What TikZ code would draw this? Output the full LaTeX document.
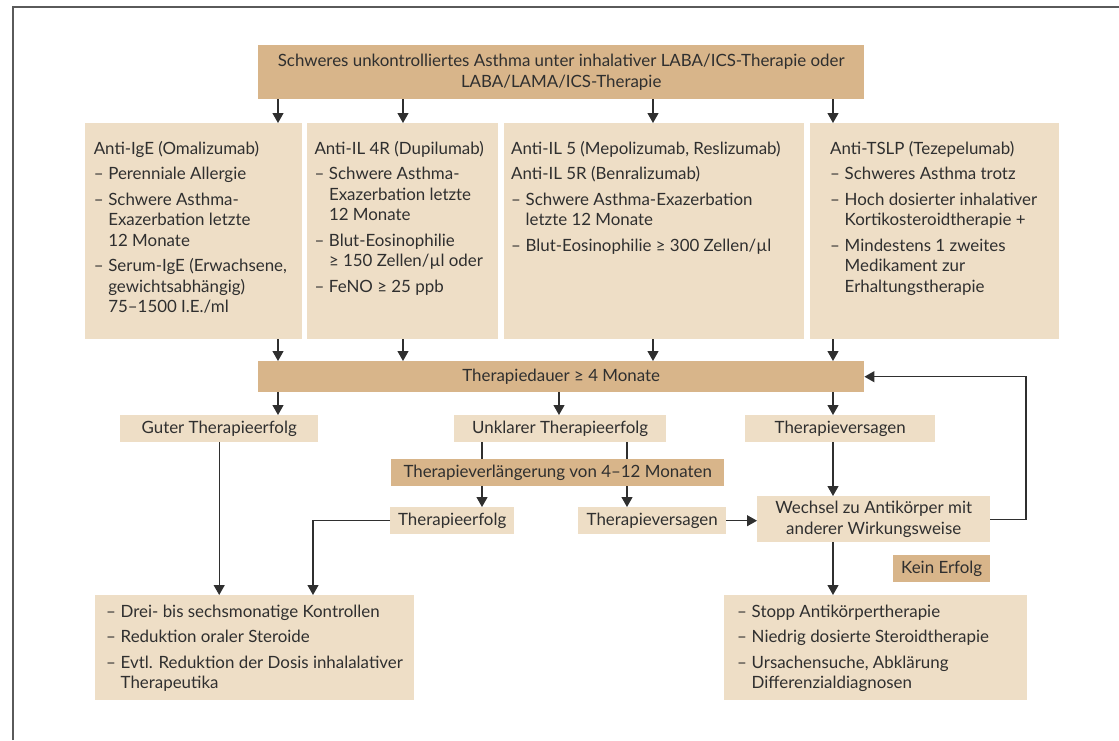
\documentclass[tikz,border=0pt]{standalone}
\usepackage{fontspec}
\setmainfont{Lato}
\usepackage{tikz}
\usetikzlibrary{arrows.meta}
\definecolor{tandark}{HTML}{D8B58A}
\definecolor{tanlight}{HTML}{EEDEC6}
\definecolor{ink}{HTML}{2F2F2F}
\definecolor{rahmen}{HTML}{5A5A5A}
\newcommand{\hang}{14.5pt}
\newcommand{\li}{\par\hangindent=\hang\hangafter=1\noindent\makebox[\hang][l]{–}\strut}
\newcommand{\lbox}[5]{\parbox[t][#2pt][t]{#1pt}{\setlength{\rightskip}{0pt plus 1fil}\setlength{\leftskip}{#3pt}\setlength{\parskip}{5pt}\vspace*{#4pt}#5}}

\begin{document}
\begin{tikzpicture}[x=1pt, y=-1pt, font=\fontsize{16.9}{20.5}\selectfont, text=ink,
        dunkel/.style={fill=tandark, anchor=north west, inner sep=0pt, align=center},
        hell/.style={fill=tanlight, anchor=north west, inner sep=0pt, align=center},
        liste/.style={fill=tanlight, anchor=north west, inner sep=0pt},
        pfeil/.style={draw=ink, line width=1.2pt, -{Triangle[width=11pt,length=10pt]}},
        linie/.style={draw=ink, line width=1.2pt}]
                %\draw[help lines] (0,0) grid[step=50] (1119,740);
                \useasboundingbox (0,0) rectangle (1119,740);
                \draw[rahmen, line width=1.5pt] (13,740) -- (13,7) -- (1119,7);

                \coordinate (c1) at (278,0);
                \coordinate (c2) at (403,0);
                \coordinate (c3) at (653,0);
                \coordinate (c4) at (833,0);
                \coordinate (cm) at (559,0);
                \coordinate (u1) at (482,0);
                \coordinate (u2) at (627,0);
                \coordinate (d) at (313,0);
                \coordinate (back) at (1026,0);

                \node[dunkel, minimum width=606, minimum height=54] (start) at (258,45)
                    {Schweres unkontrolliertes Asthma unter inhalativer LABA/ICS-Therapie oder\\LABA/LAMA/ICS-Therapie};

                % Antikoerper
                \node[liste] (ige) at (85,123) {\lbox{217}{216}{8.6}{11.6}{%
                    \strut Anti-IgE (Omalizumab)
                    \li Perenniale Allergie
                    \li Schwere Asthma-\\Exazerbation letzte\\12 Monate
                    \li Serum-IgE (Erwachsene,\\gewichtsabhängig)\\75–1500 I.E./ml}};
                \node[liste] (ilvier) at (307,123) {\lbox{191}{216}{7.3}{11.6}{%
                    \strut Anti-IL 4R (Dupilumab)
                    \li Schwere Asthma-\\Exazerbation letzte\\12 Monate
                    \li Blut-Eosinophilie\\≥ 150 Zellen/µl oder
                    \li FeNO ≥ 25 ppb}};
                \node[liste] (ilfuenf) at (504,123) {\lbox{300}{216}{7}{11.6}{%
                    \strut Anti-IL 5 (Mepolizumab, Reslizumab)\par
                    \strut Anti-IL 5R (Benralizumab)
                    \li Schwere Asthma-Exazerbation\\letzte 12 Monate
                    \li Blut-Eosinophilie ≥ 300 Zellen/µl}};
                \node[liste] (tslp) at (810,123) {\lbox{249}{216}{20}{11.6}{%
                    \strut Anti-TSLP (Tezepelumab)
                    \li Schweres Asthma trotz
                    \li Hoch dosierter inhalativer\\Kortikosteroidtherapie +
                    \li Mindestens 1 zweites\\Medikament zur\\Erhaltungstherapie}};

                \node[dunkel, minimum width=606, minimum height=31] (dauer) at (258,361) {Therapiedauer ≥ 4 Monate};

                \node[hell, minimum width=198, minimum height=27] (gut) at (120,415) {Guter Therapieerfolg};
                \node[hell, minimum width=212, minimum height=27] (unklar) at (454,415) {Unklarer Therapieerfolg};
                \node[hell, minimum width=190, minimum height=27] (versagen) at (745,415) {Therapieversagen};
                \node[dunkel, minimum width=333, minimum height=27] (verl) at (391,459) {Therapieverlängerung von 4–12 Monaten};
                \node[hell, minimum width=124, minimum height=27] (erfolg) at (390,507) {Therapieerfolg};
                \node[hell, minimum width=148, minimum height=27] (versagenb) at (578,507) {Therapieversagen};
                \node[hell, minimum width=233, minimum height=46] (wechsel) at (757,496) {Wechsel zu Antikörper mit\\anderer Wirkungsweise};
                \node[dunkel, minimum width=97, minimum height=27] (kein) at (893,555) {Kein Erfolg};

                \node[liste] (kontrolle) at (95,595) {\lbox{319}{105}{11}{2.6}{%
                    \li Drei- bis sechsmonatige Kontrollen
                    \li Reduktion oraler Steroide
                    \li Evtl. Reduktion der Dosis inhalalativer\\Therapeutika}};
                \node[liste] (stopp) at (724,595) {\lbox{303}{105}{13}{2.6}{%
                    \li Stopp Antikörpertherapie
                    \li Niedrig dosierte Steroidtherapie
                    \li Ursachensuche, Abklärung\\Differenzialdiagnosen}};

                % Pfeile
                \draw[pfeil] (start.south -| c1) -- (ige.north -| c1);
                \draw[pfeil] (start.south -| c2) -- (ilvier.north -| c2);
                \draw[pfeil] (start.south -| c3) -- (ilfuenf.north -| c3);
                \draw[pfeil] (start.south -| c4) -- (tslp.north -| c4);
                \draw[pfeil] (ige.south -| c1) -- (dauer.north -| c1);
                \draw[pfeil] (ilvier.south -| c2) -- (dauer.north -| c2);
                \draw[pfeil] (ilfuenf.south -| c3) -- (dauer.north -| c3);
                \draw[pfeil] (tslp.south -| c4) -- (dauer.north -| c4);
                \draw[pfeil] (dauer.south -| c1) -- (gut.north -| c1);
                \draw[pfeil] (dauer.south -| cm) -- (unklar.north -| cm);
                \draw[pfeil] (dauer.south -| c4) -- (versagen.north -| c4);
                \draw[linie] (unklar.south -| u1) -- (verl.north -| u1);
                \draw[linie] (unklar.south -| u2) -- (verl.north -| u2);
                \draw[pfeil] (verl.south -| u1) -- (erfolg.north -| u1);
                \draw[pfeil] (verl.south -| u2) -- (versagenb.north -| u2);
                \draw[pfeil] (versagenb.east) -- (versagenb.east -| wechsel.west);
                \draw[pfeil] (versagen.south -| c4) -- (wechsel.north -| c4);
                \draw[pfeil] (wechsel.east) -| (back |- dauer.east) -- (dauer.east);
                \draw[pfeil] (wechsel.south -| c4) -- (stopp.north -| c4);
                \draw[pfeil] (gut.south) -- (gut.south |- kontrolle.north);
                \draw[pfeil] (erfolg.west) -| (d |- kontrolle.north);

        \end{tikzpicture}
\end{document}
